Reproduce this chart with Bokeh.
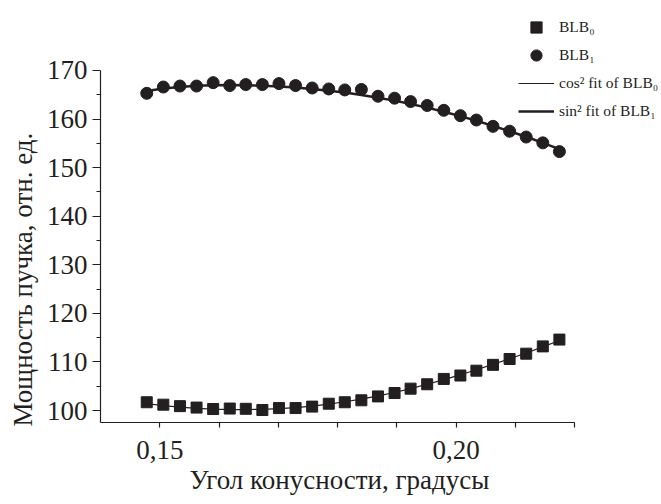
from bokeh.plotting import figure
from bokeh.models import Range1d, FixedTicker, CustomJSTickFormatter, Legend, LegendItem, Title
from bokeh.embed import file_html
from bokeh.resources import INLINE

# Data
angle = [0.1478, 0.1506, 0.1534, 0.1562, 0.1590, 0.1618, 0.1645, 0.1673, 0.1701, 0.1729,
         0.1757, 0.1785, 0.1812, 0.1840, 0.1868, 0.1896, 0.1923, 0.1951, 0.1979, 0.2007,
         0.2034, 0.2062, 0.2090, 0.2118, 0.2146, 0.2174]
blb0 = [101.7, 101.2, 100.9, 100.6, 100.3, 100.4, 100.35, 100.1, 100.5, 100.5,
        100.8, 101.4, 101.7, 102.1, 102.9, 103.6, 104.5, 105.4, 106.5, 107.2,
        108.2, 109.4, 110.6, 111.7, 113.2, 114.6]
blb1 = [165.3, 166.6, 166.8, 166.8, 167.5, 166.9, 167.1, 167.1, 167.3, 166.9,
        166.4, 166.2, 166.0, 166.1, 164.7, 164.3, 163.6, 162.8, 161.8, 160.7,
        159.8, 158.5, 157.5, 156.3, 155.1, 153.3]
fit0 = [101.4, 101.0, 100.7, 100.45, 100.3, 100.2, 100.2, 100.25, 100.4, 100.6,
        100.9, 101.3, 101.8, 102.35, 103.0, 103.7, 104.5, 105.4, 106.35, 107.35,
        108.4, 109.5, 110.65, 111.85, 113.1, 114.4]
fit1 = [165.8, 166.3, 166.6, 166.85, 166.95, 167.0, 166.95, 166.85, 166.7, 166.5,
        166.2, 165.85, 165.45, 164.95, 164.4, 163.8, 163.1, 162.35, 161.5, 160.6,
        159.65, 158.6, 157.5, 156.35, 155.1, 153.8]

x_major = [0.15, 0.20]
x_minor = [0.16, 0.17, 0.18, 0.19, 0.21, 0.22]
y_major = [100, 110, 120, 130, 140, 150, 160, 170]
y_minor = [105, 115, 125, 135, 145, 155, 165]
x_axis_span = (0.14, 0.22)
y_axis_span = (97.53, 170.0)

x_title = "Угол конусности, градусы"
y_title = "Мощность пучка, отн. ед."
labels = ["BLB₀", "BLB₁", "cos² fit of BLB₀", "sin² fit of BLB₁"]

C = "#231f20"
FONT = "Liberation Serif"

# frame reaches the right and top edges so the legend is not clipped;
# the axes themselves are limited with bounds
p = figure(width=661, height=504, x_range=Range1d(0.14, 0.23462), y_range=Range1d(97.53, 184.41),
           output_backend="svg", toolbar_location=None,
           min_border_left=98, min_border_right=0, min_border_top=0, min_border_bottom=82)
p.outline_line_color = None
p.xgrid.visible = False
p.ygrid.visible = False
p.background_fill_color = "white"
p.border_fill_color = "white"

r_f0 = p.line(angle, fit0, line_color=C, line_width=1.2)
r_f1 = p.line(angle, fit1, line_color=C, line_width=2.5)
r_b0 = p.scatter(angle, blb0, marker="square", size=11, fill_color=C, line_color=C)
r_b1 = p.scatter(angle, blb1, marker="circle", size=12, fill_color=C, line_color=C)

for ax in (p.xaxis[0], p.yaxis[0]):
    ax.axis_line_color = C
    ax.axis_line_width = 1.2
    ax.major_tick_line_color = C
    ax.minor_tick_line_color = C
    ax.major_tick_line_width = 1.2
    ax.minor_tick_line_width = 1.2
    ax.major_tick_in = 0
    ax.minor_tick_in = 0
    ax.major_label_text_font = FONT
    ax.major_label_text_font_size = "27px"
    ax.major_label_text_color = C

xa = p.xaxis[0]
xa.bounds = x_axis_span
xa.ticker = FixedTicker(ticks=x_major, minor_ticks=x_minor)
xa.formatter = CustomJSTickFormatter(code="return tick.toFixed(2).replace('.', ',');")
xa.major_tick_out = 5
xa.minor_tick_out = 5
xa.major_label_standoff = 13

ya = p.yaxis[0]
ya.bounds = y_axis_span
ya.ticker = FixedTicker(ticks=y_major, minor_ticks=y_minor)
ya.major_tick_out = 8
ya.minor_tick_out = 4
ya.major_label_standoff = 5

t_x = Title(text=x_title, align="left", offset=89, standoff=2,
            text_font=FONT, text_font_size="27px", text_font_style="normal", text_color=C)
p.add_layout(t_x, "below")
t_y = Title(text=y_title, align="left", offset=-4, standoff=11,
            text_font=FONT, text_font_size="27px", text_font_style="normal", text_color=C)
p.add_layout(t_y, "left")

legend = Legend(items=[
    LegendItem(label=labels[0], renderers=[r_b0]),
    LegendItem(label=labels[1], renderers=[r_b1]),
    LegendItem(label=labels[2], renderers=[r_f0]),
    LegendItem(label=labels[3], renderers=[r_f1]),
], location=(418, 297))
legend.background_fill_alpha = 0
legend.border_line_color = None
legend.padding = 0
legend.margin = 0
legend.glyph_width = 36
legend.glyph_height = 28
legend.label_height = 20
legend.spacing = 0
legend.label_standoff = 5
legend.label_text_font = FONT
legend.label_text_font_size = "15.5px"
legend.label_text_color = C
p.add_layout(legend, "center")

open("out.html", "w").write(file_html(p, INLINE))
